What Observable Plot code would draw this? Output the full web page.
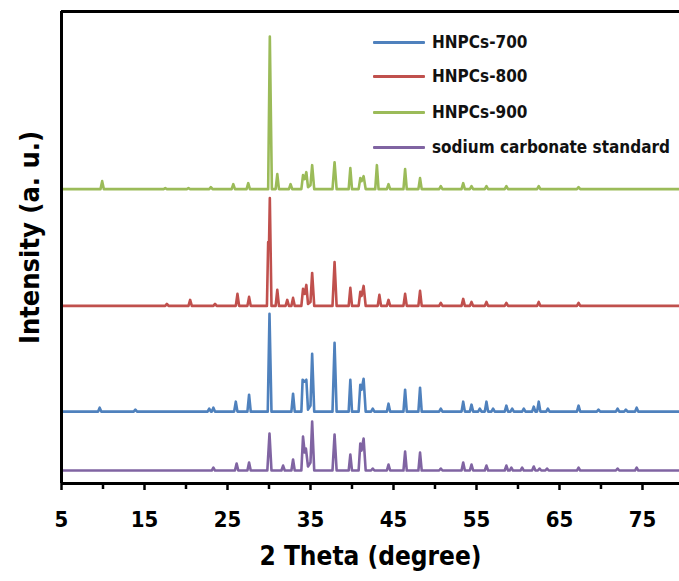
<!DOCTYPE html>
<html><head><meta charset="utf-8">
<script src="https://cdn.jsdelivr.net/npm/d3@7"></script>
<script src="https://cdn.jsdelivr.net/npm/@observablehq/plot@0.6"></script>
<style>
body{margin:0;background:#fff;}
#wrap{position:relative;width:679px;height:581px;overflow:hidden;font-family:"Liberation Sans Narrow","DejaVu Sans Condensed",sans-serif;}
.leg{position:absolute;left:373px;height:20px;display:flex;align-items:center;font-weight:bold;font-size:17px;color:#111;white-space:nowrap}
.leg .sw{display:inline-block;width:52px;height:3px;margin-right:7px;border-radius:1px}
</style></head>
<body><div id="wrap"></div>
<script>
const seriesNames = ["HNPCs-700", "HNPCs-800", "HNPCs-900", "sodium carbonate standard"];
const seriesColors = ["#4F81BD", "#C0504D", "#9BBB59", "#8064A2"];
const offsets = [59, 165, 282, 0];
const xTicks = [5, 15, 25, 35, 45, 55, 65, 75];
const xMinorTicks = [10, 20, 30, 40, 50, 60, 70, 80];
const xLabel = "2 Theta (degree)";
const yLabel = "Intensity (a. u.)";

const hnpcs700 = [[5,0],[9.4,0],[9.6,4],[9.8,0],[13.7,0],[13.9,2],[14.1,0],[22.6,0],[22.8,3],[23.0,0],[23.1,0],[23.3,4],[23.5,0],[25.8,0],[26.0,10],[26.2,0],[27.4,0],[27.6,17],[27.8,0],[29.85,0],[30.06,98],[30.3,0],[32.7,0],[32.9,18],[33.1,0],[33.9,0],[34.05,32],[34.3,30],[34.5,32],[34.7,2],[35.0,6],[35.2,58],[35.45,0],[37.65,0],[37.9,69],[38.15,0],[39.6,0],[39.8,32],[40.0,0],[40.8,0],[41.0,27],[41.15,22],[41.4,33],[41.65,0],[42.3,0],[42.5,3],[42.7,0],[44.2,0],[44.4,8],[44.6,0],[46.2,0],[46.4,22],[46.6,0],[48.0,0],[48.2,24],[48.4,0],[50.5,0],[50.7,3],[50.9,0],[53.2,0],[53.4,10],[53.6,0],[54.2,0],[54.4,7],[54.6,0],[55.2,0],[55.4,3],[55.6,0],[56.0,0],[56.2,10],[56.4,0],[56.8,0],[57.0,3],[57.2,0],[58.4,0],[58.6,6],[58.8,0],[59.1,0],[59.3,3],[59.5,0],[60.5,0],[60.7,3],[60.9,0],[61.7,0],[61.9,5],[62.1,0],[62.3,0],[62.5,10],[62.7,0],[63.4,0],[63.6,3],[63.8,0],[67.1,0],[67.3,6],[67.5,0],[69.5,0],[69.7,2],[69.9,0],[71.8,0],[72.0,3],[72.2,0],[72.8,0],[73.0,2],[73.2,0],[74.1,0],[74.3,4],[74.5,0],[80,0]];
const hnpcs800 = [[5,0],[17.5,0],[17.7,2],[17.9,0],[20.3,0],[20.5,6],[20.7,0],[23.3,0],[23.5,2],[23.7,0],[26.0,0],[26.2,12],[26.4,0],[27.4,0],[27.6,9],[27.8,0],[29.75,0],[29.9,64],[30.0,60],[30.1,108],[30.3,0],[30.8,0],[31.0,16],[31.2,0],[32.0,0],[32.2,6],[32.4,0],[32.7,0],[32.9,8],[33.1,0],[33.9,0],[34.1,17],[34.3,12],[34.5,21],[34.7,2],[35.0,4],[35.2,33],[35.45,0],[37.65,0],[37.9,44],[38.15,0],[39.6,0],[39.8,18],[40.0,0],[40.8,0],[41.0,14],[41.15,10],[41.4,20],[41.65,0],[43.1,0],[43.3,11],[43.5,0],[44.2,0],[44.4,6],[44.6,0],[46.2,0],[46.4,12],[46.6,0],[48.0,0],[48.2,15],[48.4,0],[50.5,0],[50.7,3],[50.9,0],[53.2,0],[53.4,7],[53.6,0],[54.2,0],[54.4,4],[54.6,0],[56.0,0],[56.2,4],[56.4,0],[58.4,0],[58.6,3],[58.8,0],[62.3,0],[62.5,4],[62.7,0],[67.1,0],[67.3,3],[67.5,0],[80,0]];
const hnpcs900 = [[5,0],[9.7,0],[9.9,8],[10.1,0],[17.3,0],[17.5,1],[17.7,0],[20.1,0],[20.3,1],[20.5,0],[22.8,0],[23.0,2],[23.2,0],[25.5,0],[25.7,5],[25.9,0],[27.3,0],[27.5,6],[27.7,0],[29.9,0],[30.1,153],[30.35,0],[30.8,0],[31.0,15],[31.2,0],[32.4,0],[32.6,5],[32.8,0],[33.9,0],[34.1,14],[34.3,10],[34.5,17],[34.7,2],[35.0,4],[35.2,24],[35.45,0],[37.65,0],[37.9,27],[38.15,0],[39.6,0],[39.8,21],[40.0,0],[40.8,0],[41.0,11],[41.15,8],[41.4,13],[41.65,0],[42.8,0],[43.0,24],[43.2,0],[44.2,0],[44.4,5],[44.6,0],[46.2,0],[46.4,20],[46.6,0],[48.0,0],[48.2,11],[48.4,0],[50.5,0],[50.7,3],[50.9,0],[53.2,0],[53.4,6],[53.6,0],[54.2,0],[54.4,3],[54.6,0],[56.0,0],[56.2,3],[56.4,0],[58.4,0],[58.6,3],[58.8,0],[62.3,0],[62.5,3],[62.7,0],[67.1,0],[67.3,2],[67.5,0],[80,0]];
const sodiumCarbonate = [[5,0],[23.1,0],[23.3,3],[23.5,0],[25.9,0],[26.1,7],[26.3,0],[27.4,0],[27.6,8],[27.8,0],[29.8,0],[30.06,37],[30.3,0],[31.5,0],[31.7,5],[31.9,0],[32.7,0],[32.9,11],[33.1,0],[33.9,0],[34.1,34],[34.3,18],[34.45,22],[34.7,4],[35.0,8],[35.2,49],[35.45,0],[37.65,0],[37.9,36],[38.15,0],[39.6,0],[39.8,16],[40.0,0],[40.8,0],[41.0,27],[41.15,20],[41.4,32],[41.65,0],[42.3,0],[42.5,2],[42.7,0],[44.2,0],[44.4,6],[44.6,0],[46.2,0],[46.4,19],[46.6,0],[48.0,0],[48.2,18],[48.4,0],[50.5,0],[50.7,2],[50.9,0],[53.2,0],[53.4,8],[53.6,0],[54.2,0],[54.4,6],[54.6,0],[56.0,0],[56.2,5],[56.4,0],[58.4,0],[58.6,5],[58.8,0],[59.0,0],[59.2,3],[59.4,0],[60.3,0],[60.5,3],[60.7,0],[61.7,0],[61.9,4],[62.1,0],[62.4,0],[62.6,2],[62.8,0],[63.3,0],[63.5,2],[63.7,0],[67.1,0],[67.3,3],[67.5,0],[71.8,0],[72.0,2],[72.2,0],[74.1,0],[74.3,3],[74.5,0],[80,0]];
const seriesData = [hnpcs700, hnpcs800, hnpcs900, sodiumCarbonate];

const rows = [];
seriesData.forEach((pts, i) => {
  pts.forEach(([t, v]) => rows.push({series: seriesNames[i], theta: t, intensity: v + offsets[i]}));
});

const font = '"Liberation Sans Narrow","DejaVu Sans Condensed",sans-serif';
const chart = Plot.plot({
  width: 679, height: 581,
  marginLeft: 61, marginRight: 0, marginTop: 11, marginBottom: 98,
  style: {fontFamily: font, background: "white", color: "#000"},
  x: {domain: [5, 79.46]},
  y: {domain: [-13, 460], axis: null},
  color: {domain: seriesNames, range: seriesColors},
  marks: [
    Plot.line(rows, {x: "theta", y: "intensity", z: "series", stroke: "series", strokeWidth: 2.6, strokeLinejoin: "round"}),
    Plot.ruleY([-13], {strokeWidth: 3, stroke: "#000"}),
    Plot.ruleY([460], {strokeWidth: 3, stroke: "#000"}),
    Plot.ruleX([5], {strokeWidth: 3, stroke: "#000"}),
    Plot.axisX(xTicks, {tickSize: 7, tickPadding: 21, strokeWidth: 2.5, fontSize: 22, fontWeight: "bold", label: null}),
    Plot.axisX(xMinorTicks, {tickSize: 6, strokeWidth: 2.5, tickFormat: () => "", label: null}),
    Plot.text([xLabel], {frameAnchor: "bottom", lineAnchor: "middle", textAnchor: "middle", dy: 73, fontSize: 26, fontWeight: "bold", fill: "#000"}),
    Plot.text([yLabel], {frameAnchor: "left", lineAnchor: "middle", textAnchor: "middle", dx: -31, dy: -10, rotate: -90, fontSize: 27, fontWeight: "bold", fill: "#000"})
  ]
});
const wrap = document.getElementById("wrap");
wrap.appendChild(chart);
const legY = [42, 76, 112, 147];
seriesNames.forEach((n, i) => {
  const d = document.createElement("div");
  d.className = "leg";
  d.style.top = (legY[i] - 10) + "px";
  const sw = document.createElement("span");
  sw.className = "sw";
  sw.style.background = seriesColors[i];
  d.appendChild(sw);
  d.appendChild(document.createTextNode(n));
  wrap.appendChild(d);
});
</script>
</body></html>
